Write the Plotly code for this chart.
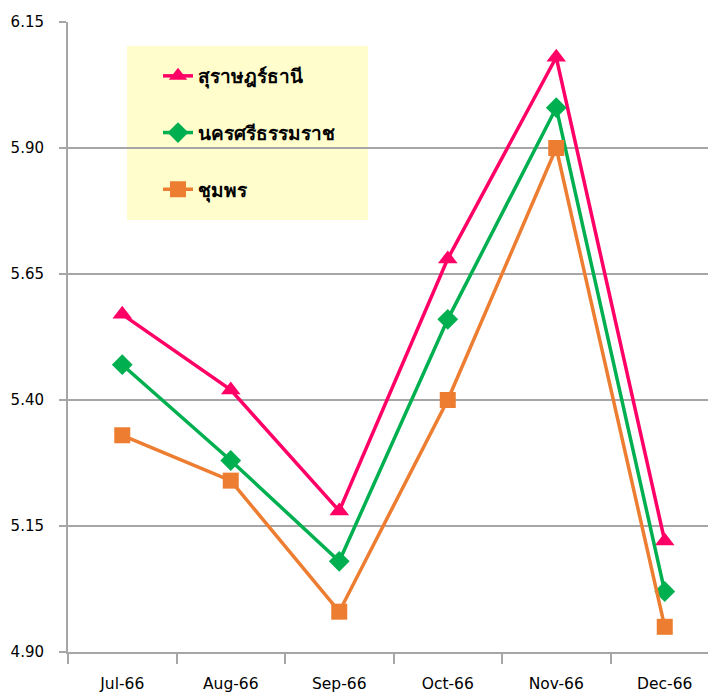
import plotly.graph_objects as go

months = ["Jul-66", "Aug-66", "Sep-66", "Oct-66", "Nov-66", "Dec-66"]
surat = [5.57, 5.42, 5.18, 5.68, 6.08, 5.12]
nakhon = [5.47, 5.28, 5.08, 5.56, 5.98, 5.02]
chumphon = [5.33, 5.24, 4.98, 5.40, 5.90, 4.95]
yticks = [4.90, 5.15, 5.40, 5.65, 5.90, 6.15]

FONT = "'DejaVu Sans', Tahoma, sans-serif"

# page has 8px body margin -> plot area in figure coords
L, T = 60, 14
PW, PH = 651, 630

fig = go.Figure()
fig.add_trace(go.Scatter(x=months, y=surat, name="สุราษฎร์ธานี", mode="lines+markers",
                         legendgroup="a",
                         line=dict(color="#FF0066", width=3.5),
                         marker=dict(symbol="triangle-up", size=17, color="#FF0066")))
fig.add_trace(go.Scatter(x=months, y=nakhon, name="นครศรีธรรมราช", mode="lines+markers",
                         legendgroup="b",
                         line=dict(color="#00B050", width=3.5),
                         marker=dict(symbol="diamond", size=16, color="#00B050")))
fig.add_trace(go.Scatter(x=months, y=chumphon, name="ชุมพร", mode="lines+markers",
                         legendgroup="c",
                         line=dict(color="#ED7D31", width=3.5),
                         marker=dict(symbol="square", size=16, color="#ED7D31")))

def px(x):
    return (x - 8 - L) / PW

def py(y):
    return (T + PH - (y - 8)) / PH

fig.add_shape(type="rect", xref="paper", yref="paper",
              x0=px(127), x1=px(368), y0=py(220), y1=py(46),
              fillcolor="#FFFDCC", line=dict(width=0), layer="below")

fig.update_layout(
    width=716, height=695,
    margin=dict(l=L, r=716 - L - PW, t=T, b=695 - T - PH, autoexpand=False),
    paper_bgcolor="white", plot_bgcolor="white",
    font=dict(family=FONT, color="black"),
    showlegend=True,
    legend=dict(x=px(158), y=py(57), xanchor="left", yanchor="top",
                bgcolor="rgba(0,0,0,0)", tracegroupgap=29,
                font=dict(size=19, color="black", weight="bold")),
    xaxis=dict(type="category", range=[-0.5, 5.5], showgrid=False, automargin=False,
               showline=True, linecolor="#A6A6A6", linewidth=2,
               ticks="outside", tickson="boundaries", ticklen=10, tickcolor="#A6A6A6", tickwidth=2,
               tickfont=dict(size=15.5), ticklabelstandoff=16, zeroline=False),
    yaxis=dict(range=[4.90, 6.15], tickvals=yticks, ticktext=[f"{v:.2f}" for v in yticks],
               showgrid=True, gridcolor="#A6A6A6", gridwidth=2, automargin=False,
               showline=True, linecolor="#A6A6A6", linewidth=2,
               ticks="outside", ticklen=7, tickcolor="#A6A6A6", tickwidth=2,
               tickfont=dict(size=15), ticklabelstandoff=12, zeroline=False),
)

fig.write_html("out.html")
